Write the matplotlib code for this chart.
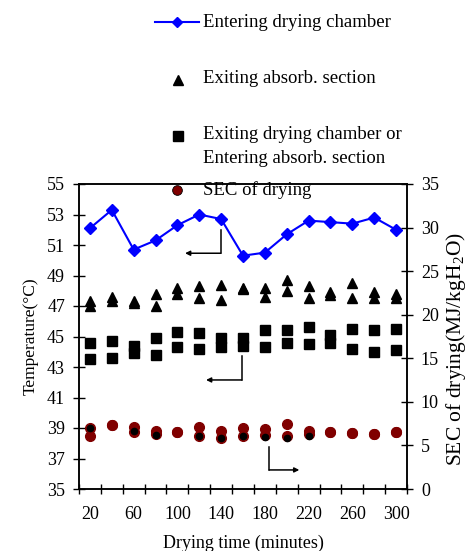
import numpy as np
import matplotlib
matplotlib.use("Agg")
import matplotlib.pyplot as plt

plt.rcParams['font.family'] = ['Liberation Serif', 'DejaVu Serif']
plt.rcParams['mathtext.fontset'] = 'custom'
plt.rcParams['mathtext.rm'] = 'Liberation Serif'
plt.rcParams['mathtext.it'] = 'Liberation Serif:italic'

# drying time (minutes)
time = [20, 40, 60, 80, 100, 120, 140, 160, 180, 200, 220, 240, 260, 280, 300]

# air temperature entering the drying chamber (deg C)
t_enter_dry = [52.1, 53.3, 50.7, 51.3, 52.3, 53.0, 52.7, 50.3, 50.5, 51.7, 52.6, 52.5, 52.4, 52.8, 52.0]

# exiting absorption section, two runs
t_exit_abs_1 = [47.3, 47.6, 47.3, 47.8, 48.2, 48.3, 48.4, 48.2, 48.2, 48.7, 48.3, 47.9, 48.5, 47.9, 47.8]
t_exit_abs_2 = [47.0, 47.3, 47.2, 47.0, 47.8, 47.5, 47.4, 48.1, 47.6, 48.0, 47.5, 47.7, 47.5, 47.5, 47.5]

# exiting drying chamber / entering absorption section, two runs
t_exit_dry_1 = [44.6, 44.7, 44.4, 44.9, 45.3, 45.2, 44.9, 44.9, 45.4, 45.4, 45.6, 45.1, 45.5, 45.4, 45.5]
t_exit_dry_2 = [43.5, 43.6, 43.9, 43.8, 44.3, 44.2, 44.3, 44.4, 44.3, 44.6, 44.5, 44.6, 44.2, 44.0, 44.1]

# specific energy consumption of drying (MJ/kg H2O)
sec_1 = [7.0, 7.3, 7.1, 6.7, 6.5, 7.1, 6.7, 7.0, 6.9, 7.5, 6.6, 6.5, 6.4, 6.3, 6.5]
sec_2 = [6.1, 7.3, 6.5, 6.3, 6.5, 6.1, 5.9, 6.1, 6.2, 6.1, 6.3, 6.5, 6.4, 6.3, 6.5]
sec_3 = [7.0, np.nan, 6.6, 6.2, np.nan, 6.1, 5.9, 6.1, 6.0, 5.9, 6.1, np.nan, np.nan, np.nan, np.nan]

x_labels = [20, 60, 100, 140, 180, 220, 260, 300]

fig = plt.figure(figsize=(4.71, 5.51), dpi=100)
ax = fig.add_axes([79 / 471, 1 - 489 / 551, 328 / 471, 305 / 551])
ax2 = ax.twinx()

red = '#800000'

ax.plot(time, t_enter_dry, color='#0000ff', lw=1.5, marker='D', ms=6.5, zorder=4)
ax.plot(time, t_exit_abs_1, ls='none', marker='^', ms=7.5, color='black')
ax.plot(time, t_exit_abs_2, ls='none', marker='^', ms=7.5, color='black')
ax.plot(time, t_exit_dry_1, ls='none', marker='s', ms=6.5, color='black')
ax.plot(time, t_exit_dry_2, ls='none', marker='s', ms=6.5, color='black')

ax2.plot(time, sec_1, ls='none', marker='o', ms=7, mfc=red, mec=red)
ax2.plot(time, sec_2, ls='none', marker='o', ms=7, mfc=red, mec=red)
ax2.plot(time, sec_3, ls='none', marker='o', ms=4.5, mfc='black', mec='black')

# axis limits and ticks
ax.set_xlim(10, 310)
ax.set_ylim(35, 55)
ax2.set_ylim(0, 35)
ax.set_yticks(np.arange(35, 56, 2))
ax2.set_yticks(np.arange(0, 36, 5))
ax.set_xticks(x_labels)
ax.set_xticks(np.arange(10, 311, 20), minor=True)

ax.tick_params(axis='x', which='major', length=0, pad=12, labelsize=13)
ax.tick_params(axis='x', which='minor', direction='inout', length=7, width=1)
ax.tick_params(axis='y', direction='inout', length=8, width=1, pad=6, labelsize=13)
ax2.tick_params(axis='y', direction='inout', length=8, width=1, pad=6, labelsize=13)

for a in (ax, ax2):
    for s in a.spines.values():
        s.set_linewidth(1.1)

ax.set_ylabel('Temperature(°C)', fontsize=12.5, labelpad=6)
ax2.set_ylabel('SEC of drying(MJ/kgH$_2$O)', fontsize=15.5)
ax2.yaxis.set_label_coords(1.112, 0.46)
ax.set_xlabel('Drying time (minutes)', fontsize=13, labelpad=9)

# guide arrows pointing to the axis each group belongs to
arrow = dict(arrowstyle='-|>', lw=1.1, color='black', mutation_scale=7, shrinkA=0, shrinkB=0)
ax.plot([139.6, 139.6], [51.98, 50.46], color='black', lw=1.1)
ax.annotate('', xy=(107, 50.46), xytext=(139.6, 50.46), arrowprops=arrow)
ax.plot([158.8, 158.8], [43.72, 42.15], color='black', lw=1.1)
ax.annotate('', xy=(126.2, 42.15), xytext=(158.8, 42.15), arrowprops=arrow)
ax.plot([184, 184], [37.73, 36.25], color='black', lw=1.1)
ax.annotate('', xy=(211.5, 36.25), xytext=(184, 36.25), arrowprops=arrow)

# legend laid out in figure pixels above the plot
lax = fig.add_axes([0, 0, 1, 1], zorder=5)
lax.set_xlim(0, 471)
lax.set_ylim(551, 0)
lax.axis('off')
lax.patch.set_alpha(0)

lax.plot([155, 199], [21.5, 21.5], color='#0000ff', lw=1.5)
lax.plot([177], [21.5], marker='D', ms=5, color='#0000ff')
lax.plot([178], [80], marker='^', ms=7.5, color='black')
lax.plot([178], [136], marker='s', ms=6.5, color='black')
lax.plot([177], [190], marker='o', ms=7, mfc=red, mec='black', mew=0.6)

fs = 13.5
lax.text(203, 27.3, 'Entering drying chamber', fontsize=fs, va='baseline')
lax.text(203, 82.7, 'Exiting absorb. section', fontsize=fs, va='baseline')
lax.text(203, 139.3, 'Exiting drying chamber or', fontsize=fs, va='baseline')
lax.text(203, 162.7, 'Entering absorb. section', fontsize=fs, va='baseline')
lax.text(203, 195, 'SEC of drying', fontsize=fs, va='baseline')

fig.savefig('out.png', dpi=100)
